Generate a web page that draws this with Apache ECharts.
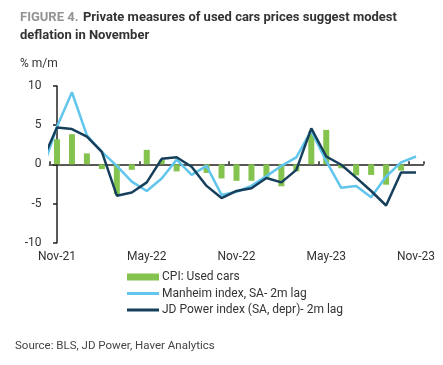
<!DOCTYPE html>
<html>
<head>
<meta charset="utf-8">
<script src="https://cdn.jsdelivr.net/npm/echarts@6/dist/echarts.min.js"></script>
<style>
html,body{margin:0;padding:0;background:#fff;}
#c{width:443px;height:365px;}
</style>
</head>
<body>
<div id="c"></div>
<script>
// Months Nov-21 .. Nov-23
const categories = ['Nov-21','Dec-21','Jan-22','Feb-22','Mar-22','Apr-22','May-22','Jun-22','Jul-22','Aug-22','Sep-22','Oct-22',
  'Nov-22','Dec-22','Jan-23','Feb-23','Mar-23','Apr-23','May-23','Jun-23','Jul-23','Aug-23','Sep-23','Oct-23','Nov-23'];
// CPI: Used cars (% m/m)
const cpiUsedCars = [3.2, 3.85, 1.4, -0.6, -3.8, -0.7, 1.85, 0.6, -0.9, 0, -1.1, -1.8,
  -2.1, -2.1, -1.65, -2.8, -0.9, 4.2, 4.4, -0.5, -1.4, -1.35, -2.6, -0.8, null];
// Line series start one month earlier (Oct-21), partly hidden behind the axis
const manheim = [-0.8, 4.8, 9.2, 3.7, 1.6, -0.2, -2.2, -3.4, -1.8, 0.6, -1.35, -0.2, -3.9,
  -3.5, -2.75, -1.5, -0.2, 0.9, 4.3, 0.4, -3.0, -2.75, -4.2, -1.55, 0.25, 1.0];
const jdPower = [0.4, 4.7, 4.5, 3.55, 1.6, -4.0, -3.6, -2.3, 0.7, 0.9, -0.3, -2.75, -4.3,
  -3.4, -3.05, -1.75, -2.3, -0.7, 4.6, 1.0, -0.05, -1.7, -3.4, -5.25, -1.05, -1.05];
const yTicks = [-10, -5, 0, 5, 10];

const FONT = 'Roboto';
const LINE_ICON = 'path://M0,0H32V3H0Z';
const chart = echarts.init(document.getElementById('c'), null, {renderer: 'canvas'});
const toXY = arr => arr.map((v, k) => [k - 1, v]);

chart.setOption({
  animation: false,
  textStyle: {fontFamily: FONT},
  title: {
    left: 15, top: 4,
    text: '{a|FIGURE 4.} {b|Private measures of used cars prices suggest modest}\n{b|deflation in November}',
    textStyle: {
      rich: {
        a: {fontFamily: FONT, fontWeight: 'bold', fontSize: 13, color: '#939393', lineHeight: 17},
        b: {fontFamily: FONT, fontWeight: 'bold', fontSize: 13, color: '#333333', lineHeight: 17}
      }
    }
  },
  grid: {left: 49.5, right: 19.5, top: 86, bottom: 122.3, containLabel: false},
  legend: {
    orient: 'vertical', left: 122, top: 266,
    itemWidth: 32, itemHeight: 7, itemGap: 4.5,
    textStyle: {fontFamily: FONT, fontSize: 12, color: '#333', padding: [0, 0, 0, -2]},
    data: [
      {name: 'CPI: Used cars', icon: 'rect'},
      {name: 'Manheim index, SA- 2m lag', icon: LINE_ICON},
      {name: 'JD Power index (SA, depr)- 2m lag', icon: LINE_ICON}
    ]
  },
  xAxis: [
    {
      type: 'category', data: categories, boundaryGap: true, position: 'bottom',
      axisLine: {show: false, onZero: false}, axisTick: {show: false},
      axisLabel: {interval: 5, color: '#333', fontSize: 12, fontFamily: FONT, margin: 8}
    },
    {
      type: 'category', data: categories, boundaryGap: true,
      axisLine: {show: true, onZero: true, lineStyle: {color: '#222', width: 1.5}},
      axisTick: {show: true, interval: 5, length: 3, lineStyle: {color: '#222', width: 1.5}},
      axisLabel: {show: false}
    },
    {
      type: 'value', min: -0.5, max: 24.5, show: false
    }
  ],
  yAxis: {
    type: 'value', min: yTicks[0], max: yTicks[yTicks.length - 1], interval: 5,
    axisLine: {show: true, lineStyle: {color: '#222', width: 1.5}},
    axisTick: {show: true, length: 4, lineStyle: {color: '#222', width: 1.5}},
    splitLine: {show: false},
    axisLabel: {color: '#333', fontSize: 12, fontFamily: FONT, margin: 8}
  },
  graphic: [
    {type: 'text', left: 20, top: 58, style: {text: '% m/m', font: '12px ' + FONT, fill: '#333'}},
    {type: 'text', left: 15, top: 340, style: {text: 'Source: BLS, JD Power, Haver Analytics', font: '11.5px ' + FONT, fill: '#444'}}
  ],
  series: [
    {
      name: 'CPI: Used cars', type: 'bar', xAxisIndex: 0, data: cpiUsedCars,
      barWidth: 6, itemStyle: {color: '#84c34e'}, z: 1
    },
    {
      name: 'Manheim index, SA- 2m lag', type: 'line', xAxisIndex: 2, data: toXY(manheim),
      symbol: 'none', clip: true, lineStyle: {color: '#62c5ec', width: 2.5}, itemStyle: {color: '#62c5ec'}, z: 3
    },
    {
      name: 'JD Power index (SA, depr)- 2m lag', type: 'line', xAxisIndex: 2, data: toXY(jdPower),
      symbol: 'none', clip: true, lineStyle: {color: '#163f5c', width: 2.5}, itemStyle: {color: '#163f5c'}, z: 4
    }
  ]
});
</script>
</body>
</html>
